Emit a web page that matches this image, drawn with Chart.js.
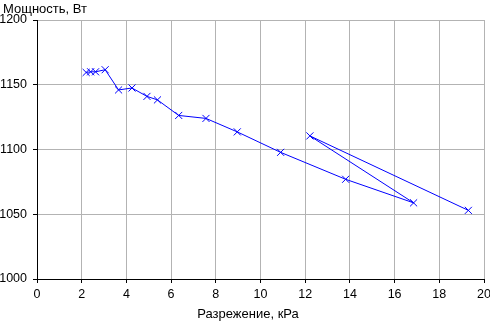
<!DOCTYPE html>
<html lang="ru">
<head>
  <meta charset="UTF-8">
  <title>Мощность от разрежения</title>
  <script src="https://cdn.jsdelivr.net/npm/chart.js"></script>
  <style>
    html, body { margin: 0; padding: 0; background: #fff; }
    #wrap { width: 490px; height: 324px; }
  </style>
</head>
<body>
  <div id="wrap"><canvas id="grafico" width="490" height="324"></canvas></div>

  <script>
    // разрежение, кПа
    const razr = [2.2, 2.4, 2.62, 3.05, 3.65, 4.25, 4.92, 5.39, 6.34, 7.56, 8.96, 10.9, 13.81, 16.85, 12.21, 19.3];
    // мощность, Вт
    const moshch = [1159.5, 1160, 1160, 1161.6, 1146, 1147.5, 1141, 1138.3, 1126.3, 1124, 1113.6, 1097.8, 1077, 1058.8, 1110.5, 1053];

    const yTitle = 'Мощность, Вт';
    const xTitle = 'Разрежение, кРа';

    const FONT = { family: '"Liberation Sans", Arial, sans-serif', size: 13 };
    const TICK_FONT = { family: '"Liberation Sans", Arial, sans-serif', size: 12.5 };

    const points = razr.map((x, i) => ({ x, y: moshch[i] }));

    // подписи осей рисуем сами, как в Excel: Y сверху слева, X чуть левее центра
    const axisTitles = {
      id: 'axisTitles',
      afterDraw(chart) {
        const c = chart.ctx;
        c.save();
        c.font = FONT.size + 'px ' + FONT.family;
        c.fillStyle = '#000';
        c.textBaseline = 'top';
        c.textAlign = 'left';
        c.fillText(yTitle, 3, 3);
        c.textAlign = 'center';
        c.textBaseline = 'middle';
        c.fillText(xTitle, 248, 314);
        c.restore();
      }
    };

    const ctx = document.getElementById('grafico').getContext('2d');
    new Chart(ctx, {
      type: 'scatter',
      data: {
        datasets: [{
          data: points,
          showLine: true,
          borderColor: '#0000ff',
          borderWidth: 1,
          pointStyle: 'crossRot',
          pointRadius: 5,
          pointBorderColor: '#0000ff',
          pointBorderWidth: 1,
          tension: 0
        }]
      },
      options: {
        responsive: false,
        animation: false,
        layout: { padding: { left: 0, right: 6, top: 20, bottom: 0 } },
        plugins: {
          legend: { display: false },
          tooltip: { enabled: false }
        },
        scales: {
          x: {
            type: 'linear',
            min: 0, max: 20,
            ticks: { stepSize: 2, color: '#000', font: TICK_FONT, padding: 4, maxRotation: 0 },
            grid: { color: '#b3b3b3', tickColor: '#000', tickLength: 4, lineWidth: 1 },
            border: { color: '#000', width: 1 },
            afterFit(s) { s.height = 45; s.paddingRight = 0; s.paddingLeft = 0; }
          },
          y: {
            min: 1000, max: 1200,
            ticks: { stepSize: 50, color: '#000', font: TICK_FONT, padding: 6, callback: v => String(v) },
            grid: { color: '#b3b3b3', tickColor: '#000', tickLength: 4, lineWidth: 1 },
            border: { color: '#000', width: 1 },
            afterFit(s) { s.width = 37; }
          }
        }
      },
      plugins: [axisTitles]
    });
  </script>
</body>
</html>
